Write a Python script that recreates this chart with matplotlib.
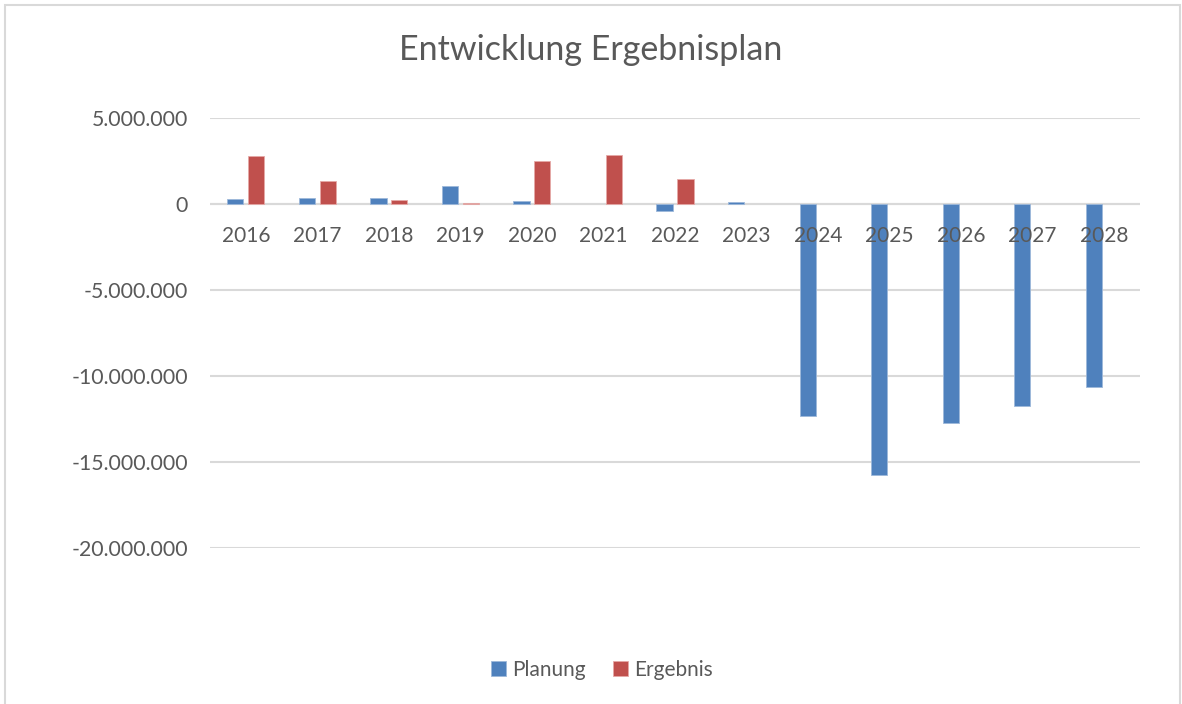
import matplotlib
matplotlib.use("Agg")
import matplotlib.pyplot as plt
import numpy as np
from matplotlib.ticker import FuncFormatter
from matplotlib.patches import Rectangle

plt.rcParams['font.family'] = ['Lato', 'DejaVu Sans']

years = ["2016", "2017", "2018", "2019", "2020", "2021", "2022",
         "2023", "2024", "2025", "2026", "2027", "2028"]
planung = [310000, 330000, 360000, 1060000, 190000, 0, -400000,
           130000, -12300000, -15770000, -12760000, -11720000, -10620000]
ergebnis = [2790000, 1350000, 250000, 80000, 2500000, 2850000, 1450000,
            0, 0, 0, 0, 0, 0]
yticks = [5000000, 0, -5000000, -10000000, -15000000, -20000000]

blue = "#4F81BD"
red = "#C0504D"
txt = "#595959"
grid = "#D9D9D9"

W, H = 1182, 704
fig = plt.figure(figsize=(W / 100, H / 100), dpi=100)
fig.patch.set_facecolor("white")

# chart-area border
fig.add_artist(Rectangle((5 / W, -0.05), (W - 7) / W, 1.05 - 5 / H,
                         transform=fig.transFigure, fill=False,
                         edgecolor="#D9D9D9", linewidth=1.5))

ax = fig.add_axes([210 / W, 1 - 548 / H, 930 / W, 430 / H])
x = np.arange(len(years))
bw = 0.227
off = 0.146
lw_p = [0.6 if v != 0 else 0 for v in planung]
lw_e = [0.6 if v != 0 else 0 for v in ergebnis]
ax.bar(x - off, planung, bw, color=blue, edgecolor="#9DB8DA", linewidth=lw_p,
       label="Planung", zorder=3)
ax.bar(x + off, ergebnis, bw, color=red, edgecolor="#E6A9A7", linewidth=lw_e,
       label="Ergebnis", zorder=3)

ax.set_xlim(-0.5, len(years) - 0.5)
ax.set_ylim(-20000000, 5000000)
ax.set_yticks(yticks)
ax.yaxis.set_major_formatter(FuncFormatter(
    lambda v, p: f"{int(v):,}".replace(",", ".")))
ax.tick_params(axis="y", length=0, pad=16, labelsize=15.3, labelcolor=txt)
ax.set_xticks([])
ax.grid(axis="y", color=grid, linewidth=1.5, zorder=0)
ax.set_axisbelow(True)
for s in ax.spines.values():
    s.set_visible(False)
ax.axhline(0, color=grid, linewidth=1.5, zorder=1)

for i, yr in enumerate(years):
    ax.annotate(yr, (i, 0), xytext=(0, -32), textcoords="offset pixels",
                ha="center", va="center", fontsize=15, color=txt, zorder=5)

fig.text(0.5, 1 - 50 / H, "Entwicklung Ergebnisplan", ha="center",
         va="center", fontsize=24.5, color=txt)

leg = fig.legend(loc="center", bbox_to_anchor=(602 / W, 1 - 670 / H),
                 ncol=2, frameon=False, fontsize=15, handlelength=0.7,
                 handleheight=0.7, handletextpad=0.3, columnspacing=1.3)
for t in leg.get_texts():
    t.set_color(txt)

fig.savefig("out.png", dpi=100)
